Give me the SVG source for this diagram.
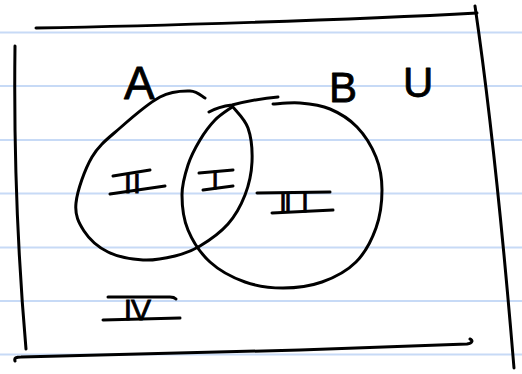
<svg xmlns="http://www.w3.org/2000/svg" width="522" height="374" viewBox="0 0 522 374">
<style>
.rule{stroke:#c7daf6;stroke-width:2;fill:none}
.ink{stroke:#000;stroke-width:3;fill:none;stroke-linecap:round;stroke-linejoin:round}
.lbl{font-family:"Liberation Sans",Arial,sans-serif;fill:#000;stroke:#000;stroke-width:0.8;stroke-linejoin:round}
.num{font-family:"Liberation Sans",Arial,sans-serif;fill:#000;stroke:#000;stroke-width:0.8;text-anchor:middle}
</style>
<rect width="522" height="374" fill="#fff"/>
<g id="paper">
<line class="rule" x1="0" y1="32.5" x2="522" y2="32.5"/>
<line class="rule" x1="0" y1="86" x2="522" y2="86"/>
<line class="rule" x1="0" y1="140" x2="522" y2="140"/>
<line class="rule" x1="0" y1="193.5" x2="522" y2="193.5"/>
<line class="rule" x1="0" y1="247.5" x2="522" y2="247.5"/>
<line class="rule" x1="0" y1="301" x2="522" y2="301"/>
<line class="rule" x1="0" y1="354.5" x2="522" y2="354.5"/>
</g>
<g id="universe">
<path class="ink" d="M36,28 C150,26 350,20 477,13"/>
<path class="ink" d="M475,6 Q496,150 514,368"/>
<path class="ink" d="M15,46 Q13,200 26,349"/>
<path class="ink" d="M15,361 C14,358 16,357 21,357 L300,350 L467,344 C473,343 473,340 470,339"/>
<text class="lbl" x="403" y="97" font-size="42">U</text>
</g>
<g id="set-A">
<path class="ink" d="M205,98 C202.5,96.8 197.5,91.2 190,91 C182.5,90.8 171.7,90.8 160,97 C148.3,103.2 131.3,118 120,128 C108.7,138 99.3,144.5 92,157 C84.7,169.5 77.3,190.7 76,203 C74.7,215.3 78.7,222.8 84,231 C89.3,239.2 98.2,247.2 108,252 C117.8,256.8 131.8,259.3 143,260 C154.2,260.7 165.5,258.3 175,256 C184.5,253.7 191.2,251.3 200,246 C208.8,240.7 220.5,232.5 228,224 C235.5,215.5 241,205.3 245,195 C249,184.7 251.5,173.2 252,162 C252.5,150.8 251.2,137.2 248,128 C244.8,118.8 235.5,110.5 233,107"/>
<text class="lbl" x="124" y="99" font-size="46">A</text>
</g>
<g id="set-B">
<path class="ink" d="M209,112 C216,108 224,106 232,105 C248,101 263,98 278,97"/>
<path class="ink" d="M273,104 C277.5,103.8 290.5,102.2 300,103 C309.5,103.8 320.5,105 330,109 C339.5,113 349.3,119 357,127 C364.7,135 371.8,146.5 376,157 C380.2,167.5 382,178.2 382,190 C382,201.8 380.3,216 376,228 C371.7,240 365,253 356,262 C347,271 334.2,277.7 322,282 C309.8,286.3 295.8,288 283,288 C270.2,288 257.2,286.3 245,282 C232.8,277.7 219.5,270.7 210,262 C200.5,253.3 192.7,241.2 188,230 C183.3,218.8 182,205.8 182,195 C182,184.2 185,174.2 188,165 C191,155.8 195.5,147.5 200,140 C204.5,132.5 209.7,125.5 215,120 C220.3,114.5 229.2,109.2 232,107"/>
<text class="lbl" x="329" y="102" font-size="42">B</text>
</g>
<g id="region-I">
<path class="ink" d="M199,173 L233,170 M203,190 L233,186"/>
<text class="num" x="215" y="189" font-size="26">I</text>
</g>
<g id="region-II">
<path class="ink" d="M113,176 L150,170 M110,194 L165,186"/>
<text class="num" x="128 137" y="193" font-size="28">II</text>
</g>
<g id="region-III">
<path class="ink" d="M257,193 L330,192 M272,213 L333,210"/>
<text class="num" x="283 288 305" y="212" font-size="27">III</text>
</g>
<g id="region-IV">
<path class="ink" d="M108,297 L170,297 C173,297 175,298 176,299 M103,320 L180,318"/>
<text class="num" x="128 141" y="320" font-size="30">IV</text>
</g>
</svg>
